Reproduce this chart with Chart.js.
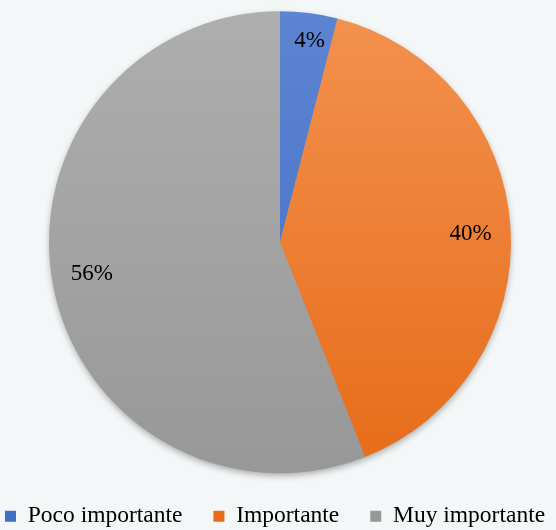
<!DOCTYPE html>
<html>
<head>
<meta charset="utf-8">
<script src="https://cdn.jsdelivr.net/npm/chart.js@4/dist/chart.umd.min.js"></script>
<style>
  html, body { margin: 0; padding: 0; background: #f4f7f8; overflow: hidden; }
  #wrap { position: relative; width: 556px; height: 530px; overflow: hidden; }
  #c { position: absolute; left: -40px; top: 0; }
</style>
</head>
<body>
<div id="wrap"><canvas id="c" width="640" height="538"></canvas></div>
<script>
const categories = ['Poco importante', 'Importante', 'Muy importante'];
const percentages = [4, 40, 56];

const SERIF = "'Liberation Serif', 'Times New Roman', serif";
Chart.defaults.font.family = SERIF;

// vertical shading for each slice: [top colour, bottom colour]
const shades = [
  ['#5c84d2', '#4170c2'],
  ['#f3914f', '#e66c18'],
  ['#aeaeae', '#989898']
];

function sliceFill(context) {
  const chart = context.chart;
  const area = chart.chartArea;
  if (!area) return shades[context.dataIndex][0];
  const cy = (area.top + area.bottom) / 2;
  const r = 231;
  const g = chart.ctx.createLinearGradient(0, cy - r, 0, cy + r);
  g.addColorStop(0, shades[context.dataIndex][0]);
  g.addColorStop(1, shades[context.dataIndex][1]);
  return g;
}

// soft shadow under the pie
const pieShadow = {
  id: 'pieShadow',
  beforeDatasetsDraw(chart) {
    const arc = chart.getDatasetMeta(0).data[0];
    if (!arc) return;
    const { x, y, outerRadius } = arc.getProps(['x', 'y', 'outerRadius'], true);
    const ctx = chart.ctx;
    ctx.save();
    ctx.shadowColor = 'rgba(0,0,0,0.35)';
    ctx.shadowBlur = 7;
    ctx.shadowOffsetY = 3;
    ctx.fillStyle = '#999999';
    ctx.beginPath();
    ctx.arc(x, y, outerRadius - 1, 0, Math.PI * 2);
    ctx.fill();
    ctx.restore();
  }
};

// percentage labels inside each slice
const sliceLabels = {
  id: 'sliceLabels',
  afterDatasetsDraw(chart) {
    const ctx = chart.ctx;
    const meta = chart.getDatasetMeta(0);
    const values = chart.data.datasets[0].data;
    ctx.save();
    ctx.font = '23px ' + SERIF;
    ctx.fillStyle = '#000000';
    ctx.textAlign = 'center';
    ctx.textBaseline = 'middle';
    meta.data.forEach((arc, i) => {
      const p = arc.getProps(['x', 'y', 'startAngle', 'endAngle', 'outerRadius'], true);
      // labels sit slightly clockwise of the slice middle
      const mid = (p.startAngle + p.endAngle) / 2 + 0.02;
      const k = values[i] < 10 ? 0.88 : 0.826;
      const lx = p.x + Math.cos(mid) * p.outerRadius * k;
      const ly = p.y + Math.sin(mid) * p.outerRadius * k;
      ctx.fillText(values[i] + '%', lx, ly);
    });
    ctx.restore();
  }
};

new Chart(document.getElementById('c'), {
  type: 'pie',
  data: {
    labels: categories,
    datasets: [{
      data: percentages,
      backgroundColor: sliceFill,
      borderWidth: 0,
      hoverOffset: 0
    }]
  },
  options: {
    responsive: false,
    animation: false,
    radius: 231,
    layout: { padding: { top: 11, bottom: 0, left: 14, right: 14 } },
    plugins: {
      tooltip: { enabled: false },
      legend: {
        position: 'bottom',
        align: 'start',
        labels: {
          boxWidth: 11,
          boxHeight: 11,
          padding: 31,
          color: '#000000',
          font: { family: SERIF, size: 23.5 },
          generateLabels(chart) {
            return chart.data.labels.map((t, i) => ({
              text: t,
              fillStyle: shades[i][1],
              strokeStyle: shades[i][1],
              lineWidth: 0,
              index: i
            }));
          }
        }
      }
    }
  },
  plugins: [pieShadow, sliceLabels]
});
</script>
</body>
</html>
